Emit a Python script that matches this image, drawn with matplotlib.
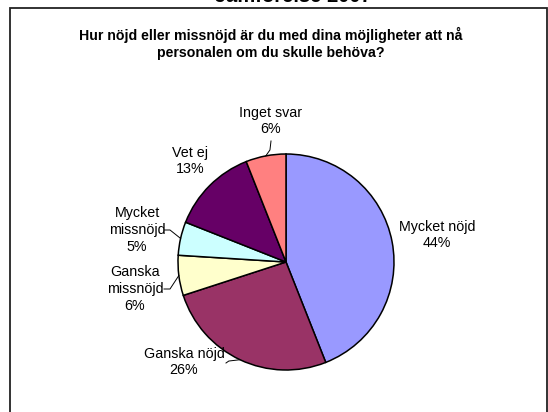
import matplotlib
matplotlib.use('Agg')
import matplotlib.pyplot as plt
from matplotlib.patches import Rectangle
import numpy as np

plt.rcParams['font.family'] = ['Liberation Sans', 'DejaVu Sans']

# data
labels = ['Mycket nöjd', 'Ganska nöjd', 'Ganska\nmissnöjd', 'Mycket\nmissnöjd', 'Vet ej', 'Inget svar']
values = [44, 26, 6, 5, 13, 6]
colors = ['#9999FF', '#993366', '#FFFFCC', '#CCFFFF', '#660066', '#FF8080']
title = 'Hur nöjd eller missnöjd är du med dina möjligheter att nå\npersonalen om du skulle behöva?'
top_text = 'Jämförelse 2007'

W, H = 548, 412
fig = plt.figure(figsize=(W / 100, H / 100), dpi=100)
ax = fig.add_axes([0, 0, 1, 1])

# frame (bottom edge falls outside the picture)
ax.add_patch(Rectangle((9.5, -20), 537, H - 7.5 + 20, fill=False,
                       edgecolor='#222222', linewidth=1.3, clip_on=False))

cx, cy, r = 286, H - 262, 108
wedges, _ = ax.pie(values, colors=colors, startangle=90, counterclock=False,
                   center=(cx, cy), radius=r, frame=True,
                   wedgeprops=dict(edgecolor='black', linewidth=1.1))
ax.set_xlim(0, W)
ax.set_ylim(0, H)
ax.set_aspect('equal')
ax.axis('off')

# label centres in pixels (from top-left) and leader line start points
label_pos = [(437, 235), (184, 362), (135, 289), (137, 230), (190, 161), (271, 121)]
leader_start = [None, (226, 363), (164, 289), (164, 230), None, (271, 141)]

for w, lab, val, pos, ls in zip(wedges, labels, values, label_pos, leader_start):
    ax.text(pos[0], H - pos[1], f'{lab}\n{val}%', ha='center', va='center',
            fontsize=10.3, linespacing=1.25)
    if ls is not None:
        ang = np.deg2rad((w.theta1 + w.theta2) / 2)
        ex, ey = cx + r * np.cos(ang), cy + r * np.sin(ang)
        if abs(np.cos(ang)) > 0.6:
            xs = [ls[0], ls[0] + 6, ex]
            ys = [H - ls[1], H - ls[1], ey]
        else:
            xs = [ls[0], ls[0] + 0.2 * (ex - ls[0]), ex]
            ys = [H - ls[1], H - ls[1] + 0.6 * (ey - H + ls[1]), ey]
        ax.plot(xs, ys, color='black', linewidth=0.7)

fig.text(271 / W, 1 - 43.5 / H, title, ha='center', va='center', fontsize=10.2,
         fontweight='bold', linespacing=1.25)
fig.text(293 / W, 1 - 2 / H, top_text, ha='center', va='baseline', fontsize=14.5,
         fontweight='bold')

fig.savefig('out.png', dpi=100)
